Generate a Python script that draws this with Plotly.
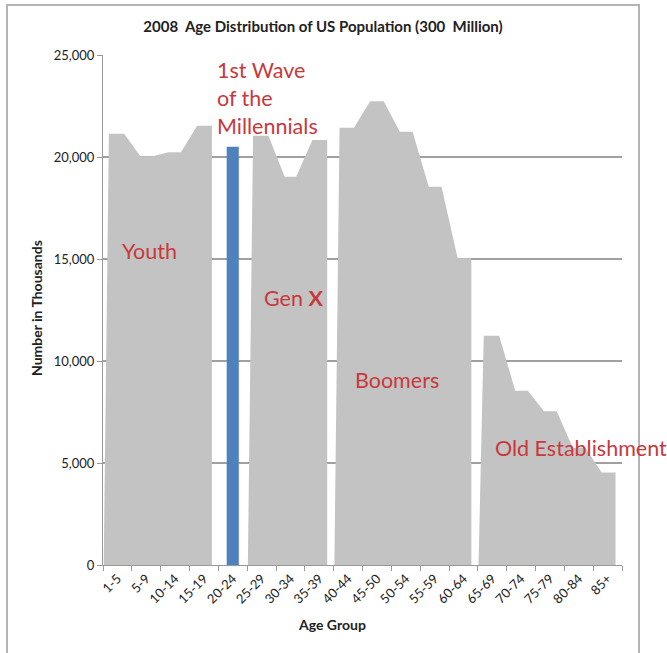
import plotly.graph_objects as go

# ---- data ----
categories = ["1-5", "5-9", "10-14", "15-19", "20-24", "25-29", "30-34", "35-39",
              "40-44", "45-50", "50-54", "55-59", "60-64", "65-69", "70-74",
              "75-79", "80-84", "85+"]
population = [21100, 20000, 20200, 21500, 20500, 21000, 19000, 20800,
              21400, 22700, 21200, 18500, 15000, 11200, 8500, 7500, 5700, 4500]
group_youth = ["1-5", "5-9", "10-14", "15-19"]
group_genx = ["25-29", "30-34", "35-39"]
group_boomers = ["40-44", "45-50", "50-54", "55-59", "60-64"]
group_old = ["65-69", "70-74", "75-79", "80-84", "85+"]

BLUE = "#4F81BD"
GRAY = "#c3c3c3"
RED = "#c8383c"
FONT = "Lato"

idx = list(range(len(categories)))

fig = go.Figure()
fig.add_trace(go.Bar(x=idx, y=population, width=0.42, marker=dict(color=BLUE, line=dict(width=0)),
                     showlegend=False, hoverinfo="skip"))


def group_polygon(names):
    ii = [categories.index(n) for n in names]
    a, b = ii[0], ii[-1]
    xs = [a - 0.45, a - 0.27]
    ys = [0, population[a]]
    for i in ii:
        xs += [i - 0.22, i + 0.22]
        ys += [population[i], population[i]]
    xs += [b + 0.25, b + 0.25, a - 0.45]
    ys += [population[b], 0, 0]
    return xs, ys


for g in [group_youth, group_genx, group_boomers, group_old]:
    xs, ys = group_polygon(g)
    fig.add_trace(go.Scatter(x=xs, y=ys, mode="lines", fill="toself", fillcolor=GRAY,
                             line=dict(width=1.5, color=GRAY), showlegend=False, hoverinfo="skip"))

W, H = 667, 653
L, R, T, B = 103, 45, 55, 88

fig.update_layout(
    width=W, height=H,
    margin=dict(l=L, r=R, t=T, b=B),
    paper_bgcolor="white", plot_bgcolor="white",
    font=dict(family=FONT, color="#222222"),
    title=dict(text="<b>2008  Age Distribution of US Population (300  Million)</b>",
               x=323 / W, y=1 - 27 / H, xanchor="center", yanchor="middle",
               font=dict(size=15, family=FONT, color="#222222")),
)

fig.update_xaxes(
    range=[-0.5, len(categories) - 0.5],
    tickmode="array", tickvals=idx, ticktext=categories,
    tickangle=-45, ticks="", ticklen=0,
    tickfont=dict(size=13, family=FONT, color="#222222"),
    showline=True, linecolor="#999999", linewidth=1,
    showgrid=False, zeroline=False,
    minor=dict(tickvals=[i - 0.5 for i in range(len(categories) + 1)], ticks="outside",
               ticklen=5, tickcolor="#999999", tickwidth=1, showgrid=False),
)
fig.update_yaxes(
    range=[0, 25000], dtick=5000, tickformat=",",
    ticks="outside", ticklen=5, tickcolor="#999999",
    tickfont=dict(size=13, family=FONT, color="#222222"),
    showline=True, linecolor="#999999", linewidth=1,
    showgrid=True, gridcolor="#a0a0a0", gridwidth=1.5, zeroline=False,
)

px_x = lambda p: (p - L) / (W - L - R)
px_y = lambda p: (H - B - p) / (H - T - B)

# outer chart border
fig.add_shape(type="rect", xref="paper", yref="paper",
              x0=px_x(7), x1=px_x(639), y0=px_y(700), y1=px_y(5),
              line=dict(color="#b4b4b4", width=2), fillcolor="rgba(0,0,0,0)", layer="below")

# axis titles
fig.add_annotation(text="<b>Number in Thousands</b>", xref="paper", yref="paper",
                   x=px_x(36), y=px_y(308), textangle=-90, showarrow=False,
                   xanchor="center", yanchor="middle",
                   font=dict(size=14, family=FONT, color="#222222"))
fig.add_annotation(text="<b>Age Group</b>", xref="paper", yref="paper",
                   x=px_x(332), y=px_y(624), showarrow=False,
                   xanchor="center", yanchor="middle",
                   font=dict(size=14, family=FONT, color="#222222"))

# group labels
labels = [
    ("Youth", 0.09, 15400),
    ("1st Wave<br>of the<br>Millennials", 3.385, 22900),
    ("Gen <b>X</b>", 5.015, 13100),
    ("Boomers", 8.17, 9070),
    ("Old Establishment", 13.03, 5730),
]
for txt, x, y in labels:
    fig.add_annotation(text=txt, x=x, y=y, xref="x", yref="y", xanchor="left", yanchor="middle",
                       align="left", showarrow=False,
                       font=dict(size=21.5, family=FONT, color=RED))

fig.write_html("out.html")
